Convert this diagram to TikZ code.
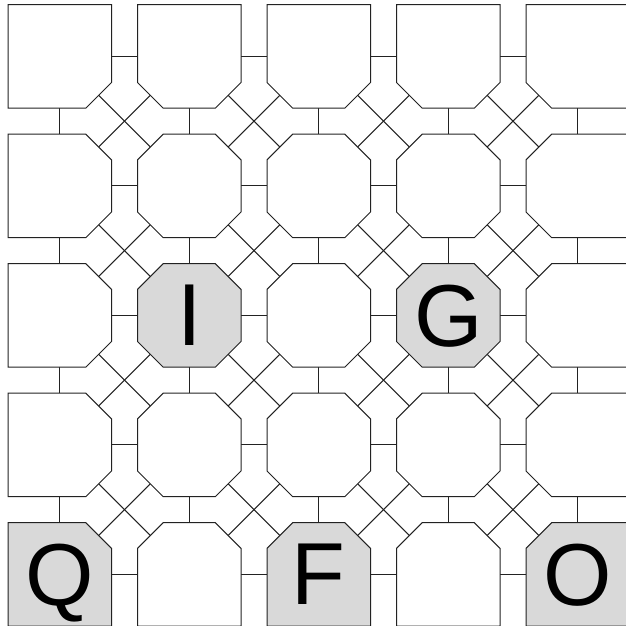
\documentclass[tikz,border=0pt]{standalone}
\usepackage{fontspec}
\setmainfont{Liberation Sans}
\usetikzlibrary{calc}
\pgfdeclarelayer{bg}
\pgfsetlayers{bg,main}
\definecolor{shade}{HTML}{D9D9D9}
\definecolor{ink}{HTML}{222222}
\expandafter\def\csname lab-1-2\endcsname{I}
\expandafter\def\csname lab-3-2\endcsname{G}
\expandafter\def\csname lab-0-4\endcsname{Q}
\expandafter\def\csname lab-2-4\endcsname{F}
\expandafter\def\csname lab-4-4\endcsname{O}
\begin{document}
\begin{tikzpicture}[x=1pt,y=1pt,
  cell/.style={minimum width=103.5pt, minimum height=103.5pt, inner sep=0pt, outer sep=0pt,
    font=\fontsize{88}{88}\selectfont, text depth=0pt},
  edge/.style={draw=ink, line width=1pt},
  outline/.style={draw=ink, line width=1pt, line join=miter}]
\useasboundingbox (0,0) rectangle (625,626);
\def\c{25.7}
\def\h{12.85}
% nodes (text on main layer)
\foreach \i in {0,...,4}{\foreach \j in {0,...,4}{
  \ifcsname lab-\i-\j\endcsname
    \node[cell] (c-\i-\j) at ({59.75+129.5*\i},{626-56.45-129.5*\j}) {\csname lab-\i-\j\endcsname};
  \else
    \node[cell] (c-\i-\j) at ({59.75+129.5*\i},{626-56.45-129.5*\j}) {};
  \fi
}}
\begin{pgfonlayer}{bg}
% horizontal and vertical connectors
\foreach \i in {0,...,3}{\foreach \j in {0,...,4}{
  \pgfmathtruncatemacro\ii{\i+1}
  \draw[edge] (c-\i-\j.east) -- (c-\ii-\j.west);
  \draw[edge] (c-\j-\i.south) -- (c-\j-\ii.north);
}}
% diagonal connectors
\foreach \i in {0,...,3}{\foreach \j in {0,...,3}{
  \pgfmathtruncatemacro\ii{\i+1}
  \pgfmathtruncatemacro\jj{\j+1}
  \draw[edge] ($(c-\i-\j.south east)+(-\h,\h)$) -- ($(c-\ii-\jj.north west)+(\h,-\h)$);
  \draw[edge] ($(c-\ii-\j.south west)+(\h,\h)$) -- ($(c-\i-\jj.north east)+(-\h,-\h)$);
}}
% cell outlines
\foreach \i in {0,...,4}{\foreach \j in {0,...,4}{
  \pgfmathsetmacro\ctl{\c*(\i>0)*(\j>0)}
  \pgfmathsetmacro\ctr{\c*(\i<4)*(\j>0)}
  \pgfmathsetmacro\cbr{\c*(\i<4)*(\j<4)}
  \pgfmathsetmacro\cbl{\c*(\i>0)*(\j<4)}
  \ifcsname lab-\i-\j\endcsname \def\fc{shade}\else\def\fc{white}\fi
  \draw[outline, fill=\fc]
    ($(c-\i-\j.north west)+(0,-\ctl)$) -- ($(c-\i-\j.north west)+(\ctl,0)$)
    -- ($(c-\i-\j.north east)+(-\ctr,0)$) -- ($(c-\i-\j.north east)+(0,-\ctr)$)
    -- ($(c-\i-\j.south east)+(0,\cbr)$) -- ($(c-\i-\j.south east)+(-\cbr,0)$)
    -- ($(c-\i-\j.south west)+(\cbl,0)$) -- ($(c-\i-\j.south west)+(0,\cbl)$)
    -- cycle;
}}
\end{pgfonlayer}
\end{tikzpicture}
\end{document}
